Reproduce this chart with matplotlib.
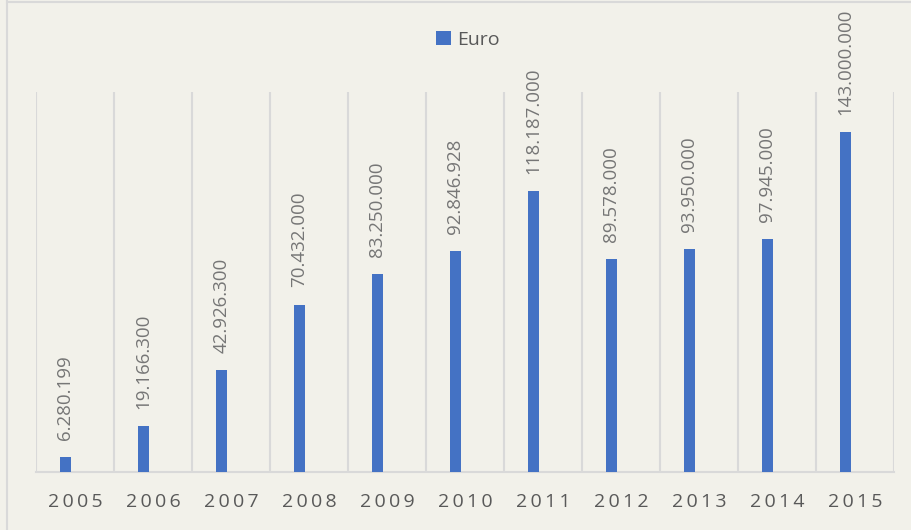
import numpy as np
import matplotlib.pyplot as plt
from matplotlib.lines import Line2D

years = ['2005', '2006', '2007', '2008', '2009', '2010',
         '2011', '2012', '2013', '2014', '2015']
euro = [6280199, 19166300, 42926300, 70432000, 83250000, 92846928,
        118187000, 89578000, 93950000, 97945000, 143000000]

bg = '#F2F1EA'
bar_color = '#4472C4'
grid_color = '#D9D9D9'
text_color = '#595959'
label_color = '#767676'

plt.rcParams['font.family'] = ['Open Sans', 'DejaVu Sans']

fig = plt.figure(figsize=(9.12, 5.30), dpi=100, facecolor=bg)
W, H = 912, 530
ax = fig.add_axes([36 / W, (H - 472) / H, (894 - 36) / W, (472 - 92) / H])
ax.set_facecolor(bg)

x = np.arange(len(years))
# bars sit left of the category centre (empty second slot in the cluster)
bx = x - 0.125
bars = ax.bar(bx, euro, width=0.14, color=bar_color, label='Euro', zorder=3)

for xi, v in zip(bx, euro):
    lbl = f'{v:,}'.replace(',', '.')
    ax.annotate(lbl, (xi, v), xytext=(0, 12.5), textcoords='offset points',
                rotation=90, ha='center', va='bottom', fontsize=13.5,
                color=label_color)

ax.set_xlim(-0.5, len(years) - 0.5)
ax.set_ylim(0, 160000000)
ax.set_yticks([])
ax.set_xticks(x)
ax.set_xticklabels(['\u2009'.join(y) for y in years], fontsize=14,
                   color=text_color)
ax.tick_params(axis='x', length=0, pad=15)
ax.set_xticks(np.arange(-0.5, len(years)), minor=True)
ax.tick_params(axis='x', which='minor', length=0)
ax.grid(axis='x', which='minor', color=grid_color, linewidth=1.5, zorder=0)

for s in ['top', 'right', 'left']:
    ax.spines[s].set_visible(False)
ax.spines['bottom'].set_color(grid_color)
ax.spines['bottom'].set_linewidth(1.5)

leg = fig.legend(handles=[bars], labels=['Euro'], loc='center',
                 bbox_to_anchor=(468 / W, (H - 40) / H), frameon=False,
                 fontsize=14, handlelength=0.75, handleheight=0.75,
                 handletextpad=0.35)
for t in leg.get_texts():
    t.set_color(text_color)

# outer chart frame
fig.add_artist(Line2D([7 / W, 7 / W], [0, 1], color=grid_color, lw=1.5))
fig.add_artist(Line2D([7 / W, 1], [1 - 1.5 / H, 1 - 1.5 / H], color=grid_color, lw=1.5))

fig.savefig('out.png', dpi=100, facecolor=bg)
